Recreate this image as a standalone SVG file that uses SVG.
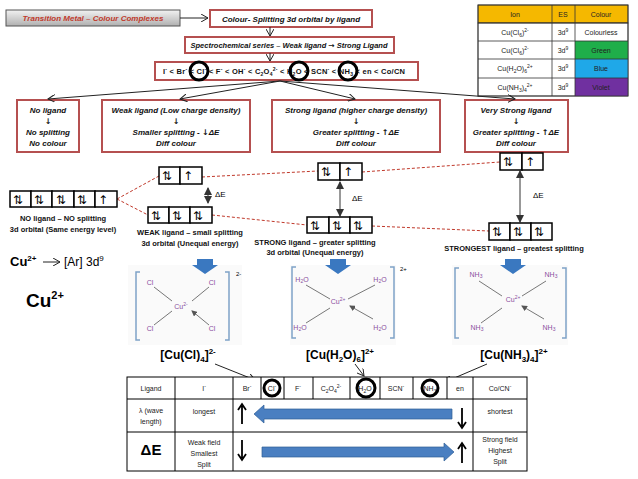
<svg xmlns="http://www.w3.org/2000/svg" width="638" height="479" viewBox="0 0 638 479">
<defs>
<linearGradient id="g" x1="0" y1="0" x2="0" y2="1"><stop offset="0" stop-color="#f2f2f2"/><stop offset="1" stop-color="#b0b0b0"/></linearGradient>
<marker id="a" markerWidth="8" markerHeight="8" refX="7" refY="4" orient="auto" markerUnits="userSpaceOnUse"><path d="M0,0 L7,4 L0,8" fill="none" stroke="#222" stroke-width="1"/></marker>
<marker id="f" markerWidth="8" markerHeight="8" refX="7" refY="4" orient="auto-start-reverse" markerUnits="userSpaceOnUse"><path d="M0,0 L8,4 L0,8 z" fill="#333"/></marker>
<marker id="s" markerWidth="6" markerHeight="6" refX="5" refY="3" orient="auto" markerUnits="userSpaceOnUse"><path d="M0,0 L6,3 L0,6 z" fill="#555"/></marker>
</defs>
<style>
.bx{fill:#fff;stroke:#b55050;stroke-width:2}
.t{font-family:"Liberation Sans",Arial,sans-serif;font-style:italic;font-weight:bold;font-size:8px;fill:#111;text-anchor:middle}
.sy{font-family:"DejaVu Sans",sans-serif;font-style:normal}
.o{fill:#fff;stroke:#000;stroke-width:1.5}
.e{font-family:"DejaVu Sans",sans-serif;font-size:12px;fill:#000}
.l{font-family:"Liberation Sans",Arial,sans-serif;font-weight:bold;font-size:7.5px;fill:#111;text-anchor:middle}
.d{stroke:#c0392b;stroke-width:1;stroke-dasharray:3,2;fill:none}
.tb{fill:#fff;stroke:#000;stroke-width:1}
.tt{font-family:"Liberation Sans",Arial,sans-serif;font-size:7px;fill:#222;text-anchor:middle}
.ln{stroke:#222;stroke-width:1;fill:none}
.cm{font-family:"Liberation Sans",Arial,sans-serif;font-size:7px;fill:#8a4fa0;text-anchor:middle}
.fm{font-family:"Liberation Sans",Arial,sans-serif;font-weight:bold;font-size:12px;fill:#000;text-anchor:middle}
.ring{fill:none;stroke:#000;stroke-width:3}
</style>

<g id="title"><rect x="6" y="10" width="174" height="16" fill="url(#g)" stroke="#555"/><text x="93" y="21" class="t" style="fill:#c0392b">Transition Metal – Colour Complexes</text></g>
<g id="colour"><rect x="210" y="10" width="162" height="17" class="bx"/><text x="291" y="21.5" class="t">Colour- Splitting 3d orbital by ligand</text></g>
<g id="spectro"><rect x="185" y="37" width="209" height="16" class="bx"/><text x="289" y="48" class="t" style="font-size:7.5px">Spectrochemical series – Weak ligand <tspan class="sy">→</tspan> Strong Ligand</text></g>
<g id="series"><rect x="155" y="62" width="263" height="18" class="bx"/>
<text x="163" y="74" textLength="242" lengthAdjust="spacing" font-family="Liberation Sans,Arial,sans-serif" font-weight="bold" font-size="7.5" fill="#111">I<tspan dy="-3" font-size="5">-</tspan><tspan dy="3"> &lt; Br</tspan><tspan dy="-3" font-size="5">-</tspan><tspan dy="3"> &lt; Cl</tspan><tspan dy="-3" font-size="5">-</tspan><tspan dy="3"> &lt; F</tspan><tspan dy="-3" font-size="5">-</tspan><tspan dy="3"> &lt; OH</tspan><tspan dy="-3" font-size="5">-</tspan><tspan dy="3"> &lt; C</tspan><tspan dy="2" font-size="5">2</tspan><tspan dy="-2">O</tspan><tspan dy="2" font-size="5">4</tspan><tspan dy="-5" font-size="5">2-</tspan><tspan dy="3"> &lt; H</tspan><tspan dy="2" font-size="5">2</tspan><tspan dy="-2">O &lt; SCN</tspan><tspan dy="-3" font-size="5">-</tspan><tspan dy="3"> &lt; NH</tspan><tspan dy="2" font-size="5">3</tspan><tspan dy="-2"> &lt; en &lt; Co/CN</tspan></text>
<circle cx="199" cy="71" r="9" class="ring"/><circle cx="299" cy="71" r="9" class="ring"/><circle cx="348" cy="71" r="9" class="ring"/></g>

<g id="b1"><rect x="17" y="100" width="62" height="52" class="bx"/><text class="t" x="48" y="113">No ligand</text><text class="t sy" x="48" y="124">↓</text><text class="t" x="48" y="135">No splitting</text><text class="t" x="48" y="146">No colour</text></g>
<g id="b2"><rect x="102" y="100" width="148" height="52" class="bx"/><text class="t" x="176" y="113">Weak  ligand (Low charge density)</text><text class="t sy" x="176" y="124">↓</text><text class="t" x="176" y="135">Smaller splitting - <tspan class="sy">↓</tspan>ΔE</text><text class="t" x="176" y="146">Diff colour</text></g>
<g id="b3"><rect x="272" y="100" width="168" height="52" class="bx"/><text class="t" x="356" y="113">Strong ligand (higher charge density)</text><text class="t sy" x="356" y="124">↓</text><text class="t" x="356" y="135">Greater splitting - <tspan class="sy">↑</tspan>ΔE</text><text class="t" x="356" y="146">Diff colour</text></g>
<g id="b4"><rect x="465" y="100" width="103" height="52" class="bx"/><text class="t" x="516" y="113">Very Strong ligand</text><text class="t sy" x="516" y="124">↓</text><text class="t" x="516" y="135">Greater splitting - <tspan class="sy">↑</tspan>ΔE</text><text class="t" x="516" y="146">Diff colour</text></g>

<g id="ion-table" font-family="Liberation Sans,Arial,sans-serif">
<rect x="478" y="5" width="150" height="18" fill="#f5b800" stroke="#333" stroke-width="0.8"/>
<rect x="478" y="23" width="150" height="73" fill="#fff" stroke="#333" stroke-width="0.8"/>
<rect x="575" y="41" width="53" height="18" fill="#1fae4a"/><rect x="575" y="59" width="53" height="19" fill="#1fa8e8"/><rect x="575" y="78" width="53" height="18" fill="#7030a0"/>
<path d="M478 23H628M478 41H628M478 59H628M478 78H628M552 5V96M575 5V96" stroke="#333" stroke-width="0.8"/>
<rect x="478" y="5" width="150" height="91" fill="none" stroke="#333" stroke-width="0.8"/>
<text class="tt" x="515" y="17">Ion</text><text class="tt" x="563" y="17">ES</text><text class="tt" x="601" y="17">Colour</text>
<text class="tt" x="515" y="35">Cu(Cl<tspan font-size="5" dy="2">6</tspan><tspan dy="-2">)</tspan><tspan font-size="5" dy="-3">2-</tspan></text>
<text class="tt" x="515" y="53">Cu(Cl<tspan font-size="5" dy="2">6</tspan><tspan dy="-2">)</tspan><tspan font-size="5" dy="-3">2-</tspan></text>
<text class="tt" x="515" y="71">Cu(H<tspan font-size="5" dy="2">2</tspan><tspan dy="-2">O)</tspan><tspan font-size="5" dy="2">6</tspan><tspan font-size="5" dy="-5">2+</tspan></text>
<text class="tt" x="515" y="90">Cu(NH<tspan font-size="5" dy="2">3</tspan><tspan dy="-2">)</tspan><tspan font-size="5" dy="2">4</tspan><tspan font-size="5" dy="-5">2+</tspan></text>
<text class="tt" x="563" y="35">3d<tspan font-size="5" dy="-3">9</tspan></text><text class="tt" x="563" y="53">3d<tspan font-size="5" dy="-3">9</tspan></text><text class="tt" x="563" y="71">3d<tspan font-size="5" dy="-3">9</tspan></text><text class="tt" x="563" y="90">3d<tspan font-size="5" dy="-3">9</tspan></text>
<text class="tt" x="601" y="35">Colourless</text><text class="tt" x="601" y="53">Green</text><text class="tt" x="601" y="71">Blue</text><text class="tt" x="601" y="90">Violet</text>
</g>

<g id="connectors">
<line x1="180" y1="18" x2="208" y2="18" class="ln" marker-end="url(#a)"/>
<line x1="270" y1="27" x2="270" y2="36" class="ln" marker-end="url(#a)"/>
<line x1="270" y1="53" x2="270" y2="61" class="ln" marker-end="url(#a)"/>
<line x1="280" y1="81" x2="48" y2="99" class="ln" marker-end="url(#a)"/>
<line x1="280" y1="81" x2="180" y2="99" class="ln" marker-end="url(#a)"/>
<line x1="280" y1="81" x2="355" y2="99" class="ln" marker-end="url(#a)"/>
<line x1="280" y1="81" x2="515" y2="99" class="ln" marker-end="url(#a)"/>
<path class="d" d="M117 199L159 176M117 199L148 215M202 177L318 171M362 172L500 162M212 215L307 225M372 226L489 231"/>
<line x1="208" y1="188" x2="208" y2="203" stroke="#333" stroke-width="1" marker-start="url(#f)" marker-end="url(#f)"/>
<line x1="340" y1="182" x2="340" y2="216" stroke="#333" stroke-width="1" marker-start="url(#f)" marker-end="url(#f)"/>
<line x1="520" y1="171" x2="520" y2="222" stroke="#333" stroke-width="1" marker-start="url(#f)" marker-end="url(#f)"/>
<line x1="215" y1="364" x2="255" y2="380" class="ln" marker-end="url(#a)"/>
<line x1="355" y1="364" x2="364" y2="376" class="ln" marker-end="url(#a)"/>
<line x1="487" y1="364" x2="445" y2="382" class="ln" marker-end="url(#a)"/>
</g>

<g id="orb-none"><g class="o"><rect x="10" y="191" width="21" height="16"/><rect x="31" y="191" width="21" height="16"/><rect x="52" y="191" width="22" height="16"/><rect x="74" y="191" width="21" height="16"/><rect x="95" y="191" width="22" height="16"/></g>
<text class="e" x="13" y="204">⇅</text><text class="e" x="34" y="204">⇅</text><text class="e" x="56" y="204">⇅</text><text class="e" x="77" y="204">⇅</text><text class="e" x="98" y="204">↑</text>
<text class="l" x="63" y="221">NO ligand – NO splitting</text><text class="l" x="63" y="232">3d orbital (Same energy level)</text></g>

<g id="orb-weak"><g class="o"><rect x="159" y="167" width="21" height="17"/><rect x="180" y="167" width="22" height="17"/><rect x="148" y="207" width="21" height="16"/><rect x="169" y="207" width="21" height="16"/><rect x="190" y="207" width="22" height="16"/></g>
<text class="e" x="162" y="180">⇅</text><text class="e" x="183" y="180">↑</text><text class="e" x="151" y="220">⇅</text><text class="e" x="172" y="220">⇅</text><text class="e" x="193" y="220">⇅</text>
<text x="215" y="197" font-family="Liberation Sans,sans-serif" font-size="8">ΔE</text>
<text class="l" x="190" y="235">WEAK ligand – small splitting</text><text class="l" x="190" y="246">3d orbital (Unequal energy)</text></g>

<g id="orb-strong"><g class="o"><rect x="318" y="163" width="22" height="17"/><rect x="340" y="163" width="22" height="17"/><rect x="307" y="217" width="22" height="16"/><rect x="329" y="217" width="21" height="16"/><rect x="350" y="217" width="22" height="16"/></g>
<text class="e" x="321" y="176">⇅</text><text class="e" x="343" y="176">↑</text><text class="e" x="310" y="230">⇅</text><text class="e" x="332" y="230">⇅</text><text class="e" x="353" y="230">⇅</text>
<text x="352" y="201" font-family="Liberation Sans,sans-serif" font-size="8">ΔE</text>
<text class="l" x="315" y="245">STRONG ligand – greater splitting</text><text class="l" x="315" y="255">3d orbital (Unequal energy)</text></g>

<g id="orb-strongest"><g class="o"><rect x="500" y="153" width="22" height="17"/><rect x="522" y="153" width="21" height="17"/><rect x="489" y="223" width="21" height="17"/><rect x="510" y="223" width="21" height="17"/><rect x="531" y="223" width="21" height="17"/></g>
<text class="e" x="503" y="166">⇅</text><text class="e" x="525" y="166">↑</text><text class="e" x="492" y="236">⇅</text><text class="e" x="513" y="236">⇅</text><text class="e" x="534" y="236">⇅</text>
<text x="533" y="198" font-family="Liberation Sans,sans-serif" font-size="8">ΔE</text>
<text class="l" x="514" y="251">STRONGEST ligand – greatest splitting</text></g>

<g id="config" font-family="Liberation Sans,Arial,sans-serif">
<text x="10" y="266" font-size="13" font-weight="bold">Cu<tspan font-size="8" dy="-5">2+</tspan></text>
<line x1="43" y1="262" x2="60" y2="262" class="ln" marker-end="url(#a)"/>
<text x="64" y="266" font-size="12">[Ar] 3d<tspan font-size="8" dy="-5">9</tspan></text>
<text x="26" y="307" font-size="19" font-weight="bold">Cu<tspan font-size="11" dy="-8">2+</tspan></text>
</g>

<g id="cx-cl"><rect x="128" y="265" width="114" height="80" fill="#fafafa"/>
<path d="M197,259h16v6h5l-13,9l-13,-9h5z" fill="#3a78c0"/>
<path d="M140 272h-4v68h4M225 272h4v68h-4" stroke="#7fa3c7" stroke-width="1.5" fill="none"/>
<text x="236" y="276" font-family="Liberation Sans,sans-serif" font-size="6">2-</text>
<text class="cm" x="150" y="285">Cl</text><text class="cm" x="212" y="285">Cl</text><text class="cm" x="150" y="331">Cl</text><text class="cm" x="212" y="331">Cl</text><text class="cm" x="181" y="309">Cu<tspan font-size="5" dy="-3">2-</tspan></text>
<path d="M154 287L172 301M209 287L192 301M154 325L172 311M209 325L192 311" stroke="#555" stroke-width="0.8" marker-end="url(#s)"/>
<text class="fm" x="188" y="359">[Cu(Cl)<tspan font-size="8" dy="3">4</tspan><tspan dy="-3">]</tspan><tspan font-size="8" dy="-5">2-</tspan></text></g>

<g id="cx-h2o"><rect x="290" y="265" width="106" height="80" fill="#fafafa"/>
<path d="M330,259h16v6h5l-13,9l-13,-9h5z" fill="#3a78c0"/>
<path d="M296 267h-4v71h4M390 267h4v71h-4" stroke="#7fa3c7" stroke-width="1.5" fill="none"/>
<text x="400" y="271" font-family="Liberation Sans,sans-serif" font-size="6">2+</text>
<text class="cm" x="302" y="282">H<tspan font-size="5" dy="1">2</tspan><tspan dy="-1">O</tspan></text><text class="cm" x="380" y="282">H<tspan font-size="5" dy="1">2</tspan><tspan dy="-1">O</tspan></text><text class="cm" x="300" y="330">H<tspan font-size="5" dy="1">2</tspan><tspan dy="-1">O</tspan></text><text class="cm" x="380" y="330">H<tspan font-size="5" dy="1">2</tspan><tspan dy="-1">O</tspan></text><text class="cm" x="338" y="304">Cu<tspan font-size="5" dy="-3">2+</tspan></text>
<path d="M306 285L330 299M375 285L348 299M306 323L330 308M373 319L350 306" stroke="#555" stroke-width="0.8" marker-end="url(#s)"/>
<text class="fm" x="340" y="359">[Cu(H<tspan font-size="8" dy="3">2</tspan><tspan dy="-3">O)</tspan><tspan font-size="8" dy="3">6</tspan><tspan dy="-3">]</tspan><tspan font-size="8" dy="-5">2+</tspan></text></g>

<g id="cx-nh3"><rect x="452" y="265" width="116" height="80" fill="#fafafa"/>
<path d="M505,259h16v6h5l-13,9l-13,-9h5z" fill="#3a78c0"/>
<path d="M459 268h-4v70h4M562 268h4v70h-4" stroke="#7fa3c7" stroke-width="1.5" fill="none"/>
<text class="cm" x="476" y="277">NH<tspan font-size="5" dy="1">3</tspan></text><text class="cm" x="551" y="277">NH<tspan font-size="5" dy="1">3</tspan></text><text class="cm" x="477" y="330">NH<tspan font-size="5" dy="1">3</tspan></text><text class="cm" x="549" y="330">NH<tspan font-size="5" dy="1">3</tspan></text><text class="cm" x="513" y="302">Cu<tspan font-size="5" dy="-3">2+</tspan></text>
<path d="M479 281L502 296M546 281L522 296M481 323L502 308M544 319L522 306" stroke="#555" stroke-width="0.8" marker-end="url(#s)"/>
<text class="fm" x="514" y="359">[Cu(NH<tspan font-size="8" dy="3">3</tspan><tspan dy="-3">)</tspan><tspan font-size="8" dy="3">4</tspan><tspan dy="-3">]</tspan><tspan font-size="8" dy="-5">2+</tspan></text></g>

<g id="ligand-table" font-family="Liberation Sans,Arial,sans-serif">
<rect x="127" y="377" width="400" height="94" class="tb"/>
<path d="M127 399H527M127 432H527M175 377V471M233 377V471M473 377V471M261 377V399M284 377V399M313 377V399M350 377V399M380 377V399M413 377V399M447 377V399" stroke="#000" stroke-width="1"/>
<text class="tt" x="151" y="391">Ligand</text><text class="tt" x="204" y="391">I<tspan font-size="5" dy="-3">-</tspan></text>
<text class="tt" x="247" y="391">Br<tspan font-size="5" dy="-3">-</tspan></text><text class="tt" x="272" y="391">Cl<tspan font-size="5" dy="-3">-</tspan></text><text class="tt" x="298" y="391">F<tspan font-size="5" dy="-3">-</tspan></text>
<text class="tt" x="331" y="391">C<tspan font-size="5" dy="2">2</tspan><tspan dy="-2">O</tspan><tspan font-size="5" dy="2">4</tspan><tspan font-size="5" dy="-5">2-</tspan></text>
<text class="tt" x="365" y="391">H<tspan font-size="5" dy="2">2</tspan><tspan dy="-2">O</tspan></text><text class="tt" x="396" y="391">SCN<tspan font-size="5" dy="-3">-</tspan></text>
<text class="tt" x="430" y="391">NH<tspan font-size="5" dy="2">3</tspan></text><text class="tt" x="460" y="391">en</text><text class="tt" x="500" y="391">Co/CN<tspan font-size="5" dy="-3">-</tspan></text>
<circle cx="272" cy="388" r="8" class="ring" stroke-width="2.2"/><circle cx="366" cy="388" r="9" class="ring" stroke-width="2.2"/><circle cx="430" cy="388" r="8" class="ring" stroke-width="2.2"/>
<text class="tt" x="151" y="413">λ (wave</text><text class="tt" x="151" y="424">length)</text><text class="tt" x="204" y="414">longest</text><text class="tt" x="500" y="414">shortest</text>
<text x="151" y="455" font-size="15" font-weight="bold" text-anchor="middle">ΔE</text>
<text class="tt" x="204" y="445">Weak field</text><text class="tt" x="204" y="456">Smallest</text><text class="tt" x="204" y="467">Split</text>
<text class="tt" x="500" y="442">Strong field</text><text class="tt" x="500" y="453">Highest</text><text class="tt" x="500" y="464">Split</text>
<path d="M452 409H264V405L254 414L264 423V419H452z" fill="#4a7fc1" stroke="#2f5f96" stroke-width="0.7"/>
<path d="M262 447H444V443L454 452L444 461V457H262z" fill="#4a7fc1" stroke="#2f5f96" stroke-width="0.7"/>
<g stroke="#000" stroke-width="1.8" fill="none"><path d="M242 424V406M238 410L242 404L246 410"/><path d="M462 408V426M458 422L462 428L466 422"/><path d="M242 440V458M238 454L242 460L246 454"/><path d="M462 463V445M458 449L462 443L466 449"/></g>
</g>
</svg>
